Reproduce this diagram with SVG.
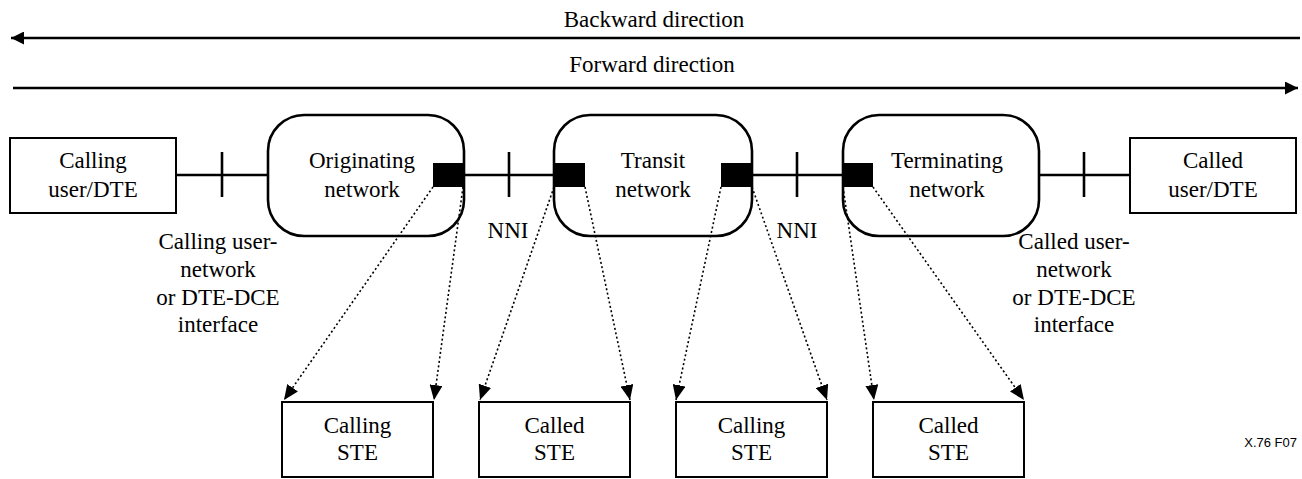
<svg xmlns="http://www.w3.org/2000/svg" width="1302" height="479" viewBox="0 0 1302 479">
<style>
.box{fill:#fff;stroke:#000;stroke-width:2}
.net{fill:#fff;stroke:#000;stroke-width:2.6}
.sq{fill:#000}
.wire{stroke:#000;stroke-width:2.6;fill:none}
.dir{stroke:#000;stroke-width:2.6;fill:none}
.dot{stroke:#000;stroke-width:1.6;stroke-dasharray:2 2.5;fill:none}
</style>
<defs>
<marker id="ah" markerUnits="userSpaceOnUse" markerWidth="13" markerHeight="13" refX="12" refY="6" orient="auto" viewBox="0 0 12 12">
<path d="M0,0 L12,6 L0,12 z" fill="#000"/>
</marker>
<marker id="ad" markerUnits="userSpaceOnUse" markerWidth="15" markerHeight="13" refX="15" refY="6.5" orient="auto" viewBox="0 0 15 13">
<path d="M0,0 L15,6.5 L0,13 z" fill="#000"/>
</marker>
</defs>

<g id="directions">
<g font-family="Liberation Serif, DejaVu Serif, serif" font-size="23" text-anchor="middle" fill="#000">
<text x="654" y="27">Backward direction</text>
<text x="652" y="72">Forward direction</text>
</g>
<line class="dir" x1="1300" y1="38" x2="11" y2="38" marker-end="url(#ah)"/>
<line class="dir" x1="13" y1="88" x2="1298" y2="88" marker-end="url(#ah)"/>
</g>

<g id="wires">
<line class="wire" x1="176" y1="175" x2="268" y2="175"/>
<line class="wire" x1="463" y1="175" x2="554" y2="175"/>
<line class="wire" x1="752" y1="175" x2="843" y2="175"/>
<line class="wire" x1="1039" y1="175" x2="1130" y2="175"/>
<line class="wire" x1="222" y1="152" x2="222" y2="197"/>
<line class="wire" x1="509" y1="152" x2="509" y2="197"/>
<line class="wire" x1="797" y1="152" x2="797" y2="197"/>
<line class="wire" x1="1084" y1="152" x2="1084" y2="197"/>
</g>

<g font-family="Liberation Serif, DejaVu Serif, serif" font-size="23" text-anchor="middle" fill="#000">
<g id="calling-dte">
<rect class="box" x="10" y="138" width="166" height="75"/>
<text x="93" y="168">Calling</text>
<text x="93" y="197">user/DTE</text>
</g>

<g id="originating">
<rect class="net" x="268" y="115" width="196" height="121" rx="36" ry="36"/>
<text x="362" y="168">Originating</text>
<text x="362" y="197">network</text>
<rect class="sq" x="433" y="163" width="31" height="24"/>
</g>

<g id="transit">
<rect class="net" x="554" y="115" width="198" height="121" rx="36" ry="36"/>
<text x="653" y="168">Transit</text>
<text x="653" y="197">network</text>
<rect class="sq" x="554" y="163" width="31" height="24"/>
<rect class="sq" x="721" y="163" width="31" height="24"/>
</g>

<g id="terminating">
<rect class="net" x="843" y="115" width="196" height="121" rx="36" ry="36"/>
<text x="947" y="168">Terminating</text>
<text x="947" y="197">network</text>
<rect class="sq" x="843" y="163" width="30" height="24"/>
</g>

<g id="called-dte">
<rect class="box" x="1130" y="138" width="166" height="75"/>
<text x="1213" y="168">Called</text>
<text x="1213" y="197">user/DTE</text>
</g>

<g id="labels">
<text x="218" y="249">Calling user-</text>
<text x="218" y="277">network</text>
<text x="218" y="305">or DTE-DCE</text>
<text x="218" y="332">interface</text>
<text x="508" y="238">NNI</text>
<text x="797" y="238">NNI</text>
<text x="1074" y="249">Called user-</text>
<text x="1074" y="277">network</text>
<text x="1074" y="305">or DTE-DCE</text>
<text x="1074" y="332">interface</text>
<text x="1297" y="447" font-family="Liberation Sans, Arial, sans-serif" font-size="13" text-anchor="end">X.76  F07</text>
</g>

<g id="ste1">
<rect class="box" x="282" y="402" width="151" height="75"/>
<text x="357.5" y="433">Calling</text>
<text x="357.5" y="460">STE</text>
</g>
<g id="ste2">
<rect class="box" x="479" y="402" width="151" height="75"/>
<text x="554.5" y="433">Called</text>
<text x="554.5" y="460">STE</text>
</g>
<g id="ste3">
<rect class="box" x="676" y="402" width="151" height="75"/>
<text x="751.5" y="433">Calling</text>
<text x="751.5" y="460">STE</text>
</g>
<g id="ste4">
<rect class="box" x="873" y="402" width="151" height="75"/>
<text x="948.5" y="433">Called</text>
<text x="948.5" y="460">STE</text>
</g>
</g>

<g id="connectors">
<line class="dot" x1="433" y1="187" x2="284" y2="400" marker-end="url(#ad)"/>
<line class="dot" x1="463" y1="187" x2="434" y2="400" marker-end="url(#ad)"/>
<line class="dot" x1="554" y1="187" x2="480" y2="400" marker-end="url(#ad)"/>
<line class="dot" x1="585" y1="187" x2="630" y2="400" marker-end="url(#ad)"/>
<line class="dot" x1="721" y1="187" x2="676" y2="400" marker-end="url(#ad)"/>
<line class="dot" x1="752" y1="187" x2="827" y2="400" marker-end="url(#ad)"/>
<line class="dot" x1="843" y1="187" x2="874" y2="400" marker-end="url(#ad)"/>
<line class="dot" x1="873" y1="187" x2="1024" y2="400" marker-end="url(#ad)"/>
</g>
</svg>
